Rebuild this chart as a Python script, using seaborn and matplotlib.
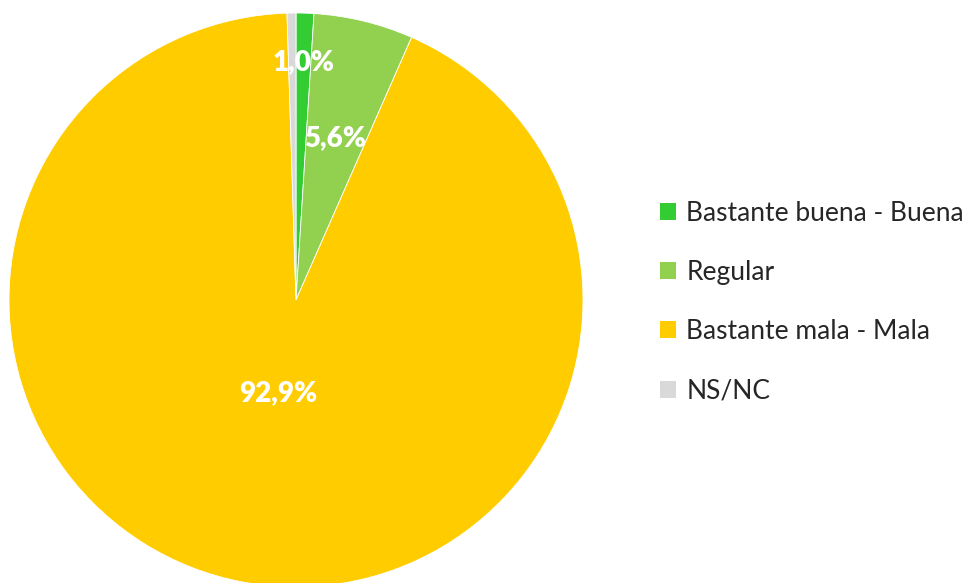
import numpy as np
import matplotlib
matplotlib.use("Agg")
import matplotlib.pyplot as plt
import seaborn as sns
from matplotlib.patches import Patch

categories = ["Bastante buena - Buena", "Regular", "Bastante mala - Mala", "NS/NC"]
values = [1.0, 5.6, 92.9, 0.5]
labels = ["1,0%", "5,6%", "92,9%", ""]
colors = ["#33CC33", "#92D050", "#FFCC00", "#D9D9D9"]
label_radius = [0.83, 0.58, 0.33, 0.0]

sns.set_theme(style="white")
plt.rcParams['font.family'] = ['Lato', 'DejaVu Sans']

fig = plt.figure(figsize=(9.73, 5.83), dpi=100)
cx, cy, r = 296 / 973, (583 - 300) / 583, 287
ax = fig.add_axes([cx - r / 973, cy - r / 583, 2 * r / 973, 2 * r / 583])
wedges, _ = ax.pie(values, colors=colors, startangle=90, counterclock=False,
                   radius=1.0, wedgeprops=dict(linewidth=0.6, edgecolor="white"))
ax.set_xlim(-1, 1)
ax.set_ylim(-1, 1)
ax.set_aspect("equal")
ax.axis("off")

for w, lab, rr in zip(wedges, labels, label_radius):
    if not lab:
        continue
    ang = np.deg2rad((w.theta1 + w.theta2) / 2)
    ax.text(rr * np.cos(ang), rr * np.sin(ang), lab, ha="center", va="center",
            color="white", fontsize=20, fontweight="heavy")

handles = [Patch(facecolor=c, edgecolor="none") for c in colors]
fig.legend(handles, categories, loc="center left", bbox_to_anchor=(660 / 973, (583 - 302) / 583),
           frameon=False, fontsize=19, handlelength=0.6, handleheight=0.6,
           handletextpad=0.4, labelspacing=1.3, borderaxespad=0, borderpad=0)

fig.savefig("out.png", dpi=100)
